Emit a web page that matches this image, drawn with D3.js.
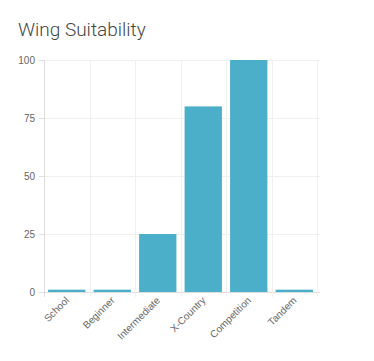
<!DOCTYPE html>
<head>
  <meta charset="utf-8">
  <title>Wing Suitability</title>
  <script src="https://d3js.org/d3.v7.min.js"></script>
  <style type="text/css">
    body {margin: 0; background: #fff;}
    .title {font-family: 'Roboto'; font-weight: 300; font-size: 19px; fill: #444;}
    .tick text {font-family: 'Liberation Sans', Arial, sans-serif; font-size: 10px; fill: #666;}
  </style>
</head>

<body>
  <div id="viz"></div>
</body>

<script type="text/javascript">

  const categories = ["School", "Beginner", "Intermediate", "X-Country", "Competition", "Tandem"];
  const values = [1, 1, 25, 80, 100, 1];
  const yTicks = [0, 25, 50, 75, 100];

  const colorSet = {
    "bar": "#4bafc9",
    "grid": "#f0f0f0",
    "axis": "#dedede"
  };

  const FULLW = 374;
  const FULLH = 361;
  const MARGIN = { top: 60, right: 57, bottom: 69, left: 44 };
  const VIZWIDTH = FULLW - MARGIN.left - MARGIN.right;
  const VIZHEIGHT = FULLH - MARGIN.top - MARGIN.bottom;

  const scaleX = d3.scaleBand().domain(categories).range([0, VIZWIDTH]).paddingInner(0.18).paddingOuter(0.09);
  const bandX = d3.scaleBand().domain(categories).range([0, VIZWIDTH]);
  const scaleY = d3.scaleLinear().domain([0, 100]).range([VIZHEIGHT, 0]);

  const svg = d3.select("#viz")
    .append("svg")
    .attr("width", FULLW)
    .attr("height", FULLH);

  svg.append("text")
    .text("Wing Suitability")
    .attr("x", 18)
    .attr("y", 36)
    .classed("title", true);

  const vizGroup = svg.append("g")
    .attr("transform", "translate(" + MARGIN.left + "," + MARGIN.top + ")");

  //horizontal grid + y ticks
  const yAxis = vizGroup.append("g")
    .call(d3.axisLeft(scaleY).tickValues(yTicks).tickSize(5).tickPadding(4));
  yAxis.select(".domain").remove();
  yAxis.selectAll(".tick line").attr("stroke", colorSet.axis);

  vizGroup.append("g")
    .selectAll("line")
    .data(yTicks)
    .join("line")
    .attr("x1", 0)
    .attr("x2", VIZWIDTH + 3)
    .attr("y1", d => Math.round(scaleY(d)) + 0.5)
    .attr("y2", d => Math.round(scaleY(d)) + 0.5)
    .attr("stroke", d => d === 0 ? colorSet.axis : colorSet.grid);

  //vertical grid at category boundaries
  const bounds = categories.map(c => bandX(c)).concat([VIZWIDTH]);
  vizGroup.append("g")
    .selectAll("line")
    .data(bounds)
    .join("line")
    .attr("x1", d => Math.round(d) + 0.5)
    .attr("x2", d => Math.round(d) + 0.5)
    .attr("y1", 0)
    .attr("y2", VIZHEIGHT + 5)
    .attr("stroke", (d, i) => i === 0 ? colorSet.axis : colorSet.grid);

  //bars
  vizGroup.append("g")
    .selectAll("rect")
    .data(values)
    .join("rect")
    .attr("x", (d, i) => scaleX(categories[i]))
    .attr("width", scaleX.bandwidth())
    .attr("y", d => scaleY(d))
    .attr("height", d => VIZHEIGHT - scaleY(d))
    .attr("fill", colorSet.bar);

  //x labels
  const xAxis = vizGroup.append("g")
    .attr("transform", "translate(0," + VIZHEIGHT + ")")
    .call(d3.axisBottom(bandX).tickSize(0).tickPadding(0));
  xAxis.select(".domain").remove();
  xAxis.selectAll(".tick text")
    .attr("text-anchor", "end")
    .attr("dy", 0)
    .attr("transform", "translate(3,9) rotate(-45)");

</script>
</html>
